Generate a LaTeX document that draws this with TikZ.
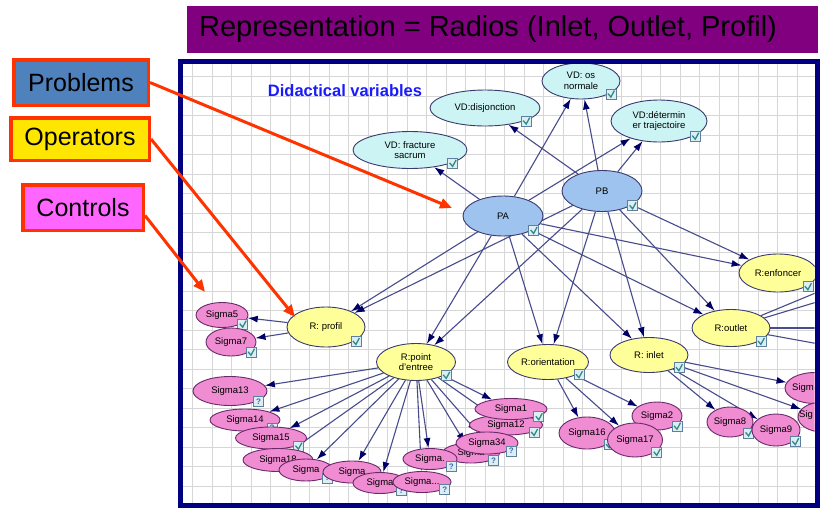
\documentclass[tikz,border=0pt]{standalone}
\usepackage{fontspec}
\setmainfont{Liberation Sans}
\usetikzlibrary{shapes.geometric,arrows.meta}
\definecolor{banner}{HTML}{800080}
\definecolor{panelb}{HTML}{000080}
\definecolor{gridc}{HTML}{D6D6D6}
\definecolor{vdfill}{HTML}{CCF4F4}
\definecolor{pfill}{HTML}{9DC3EE}
\definecolor{rfill}{HTML}{FFFF99}
\definecolor{sfill}{HTML}{F08CD2}
\definecolor{nodeline}{HTML}{3A3A6E}
\definecolor{sline}{HTML}{6A2A6A}
\definecolor{edgec}{HTML}{474C8C}
\definecolor{arrc}{HTML}{000066}
\definecolor{redc}{HTML}{FF3300}
\definecolor{probc}{HTML}{4F81BD}
\definecolor{operc}{HTML}{FFE600}
\definecolor{contc}{HTML}{FF66FF}
\definecolor{chkc}{HTML}{2E8B8B}
\definecolor{cbfill}{HTML}{DDEEF2}
\definecolor{cbline}{HTML}{5F7F9F}
\definecolor{didc}{HTML}{1A1AFF}
\definecolor{qc}{HTML}{3A6AB0}
\pgfdeclarelayer{back}
\pgfdeclarelayer{edges}
\pgfsetlayers{back,edges,main}
\newcommand\cbx[1]{\node[chkbox] (#1c) at ([xshift=2pt]#1.south east) {};}
\newcommand\qbx[1]{\node[qbox] (#1q) at ([xshift=2pt]#1.south east) {?};}
\begin{document}
\begin{tikzpicture}[x=1pt,y=-1pt,
  vnode/.style={ellipse, draw=nodeline, line width=0.9pt, inner sep=0pt, align=center,
    font=\fontsize{9.5}{10.5}\selectfont},
  sz/.style 2 args={minimum width=#1pt, minimum height=#2pt},
  vd/.style={vnode, fill=vdfill},
  pp/.style={vnode, fill=pfill},
  rr/.style={vnode, fill=rfill},
  sg/.style={vnode, fill=sfill, draw=sline},
  edge/.style={draw=edgec, line width=1.1pt, -{Latex[length=10pt,width=7pt,color=arrc]}},
  plainedge/.style={draw=edgec, line width=1.1pt},
  redarrow/.style={draw=redc, line width=3pt, -{Triangle[length=12pt,width=10pt]}},
  tag/.style={rectangle, draw=redc, line width=3.5pt, inner sep=0pt, font=\fontsize{25}{28}\selectfont},
  chkbox/.style={rectangle, draw=cbline, fill=cbfill, line width=0.7pt, minimum size=10pt, inner sep=0pt,
    path picture={\draw[color=chkc, line width=1.3pt]
      ([xshift=2pt,yshift=0.5pt]path picture bounding box.west) --
      ([yshift=2pt]path picture bounding box.south) --
      ([xshift=-1.5pt,yshift=-1.5pt]path picture bounding box.north east);}},
  qbox/.style={rectangle, draw=cbline, fill=cbfill, line width=0.7pt, minimum size=10pt, inner sep=0pt,
    text=qc, font=\fontsize{8}{8}\selectfont\bfseries}
]
\useasboundingbox (0,0) rectangle (820,507);

% ---- grid background
\begin{pgfonlayer}{back}
\fill[white] (182,63) rectangle (815,503);
\begin{scope}
\clip (182,63) rectangle (815,503);
\foreach \i in {0,...,32} \draw[gridc, line width=0.8pt] (192.7+19.5*\i,63) -- (192.7+19.5*\i,503);
\foreach \j in {0,...,22} \draw[gridc, line width=0.8pt] (182,76.7+19.5*\j) -- (815,76.7+19.5*\j);
\end{scope}
\end{pgfonlayer}

% ---- banner
\node[fill=banner, minimum width=631pt, minimum height=47pt, inner sep=0pt, anchor=north west] (banner) at (187,6) {};
\node[font=\fontsize{29}{32}\selectfont, text=black, inner sep=0pt] (title) at (488,29) {Representation = Radios (Inlet, Outlet, Profil)};

% ---- nodes
\begin{scope}
\clip (182.5,63.5) rectangle (814.5,502.5);
\node[font=\fontsize{16.5}{18}\selectfont\bfseries, text=didc, inner sep=0pt] (didac) at (345,91) {Didactical variables};

\node[vd, sz={114}{37}] (fr) at (410,150) {VD: fracture\\sacrum}; \cbx{fr}
\node[vd, sz={110}{36}] (dis) at (485,108) {VD:disjonction}; \cbx{dis}
\node[vd, sz={78}{36}] (os) at (581,81) {VD: os\\normale}; \cbx{os}
\node[vd, sz={96}{42}] (det) at (659,121) {VD:détermin\\er trajectoire}; \cbx{det}

\node[pp, sz={80}{40}] (PA) at (503,216) {PA}; \cbx{PA}
\node[pp, sz={80}{41}] (PB) at (602,191) {PB}; \cbx{PB}

\node[rr, sz={78}{40}] (prof) at (326,327) {R: profil}; \cbx{prof}
\node[rr, sz={79}{37}] (pt) at (416,362) {R:point\\d'entree}; \cbx{pt}
\node[rr, sz={81}{35}] (ori) at (548,362) {R:orientation}; \cbx{ori}
\node[rr, sz={78}{35}] (inl) at (649,355) {R: inlet}; \cbx{inl}
\node[rr, sz={78}{37}] (out) at (731,328) {R:outlet}; \cbx{out}
\node[rr, sz={78}{38}] (enf) at (778,273) {R:enfoncer}; \cbx{enf}

\node[sg, sz={52}{25}] (s5) at (222,315) {Sigma5}; \cbx{s5}
\node[sg, sz={50}{28}] (s7) at (231,342) {Sigma7}; \cbx{s7}

\node[sg, sz={73}{20}] (s12) at (506,425) {Sigma12}; \cbx{s12}
\node[sg, sz={72}{21}] (s1) at (511,409) {Sigma1}; \cbx{s1}
\node[sg, sz={57}{20}] (a6) at (471,453) {Sigma}; \qbx{a6}
\node[sg, sz={62}{22}] (s34) at (487,443) {Sigma34}; \qbx{s34}
\node[sg, sz={54}{21}] (a5) at (430,459) {Sigma.}; \qbx{a5}
\node[sg, sz={74}{29}] (s13) at (230,391) {Sigma13}; \qbx{s13}
\node[sg, sz={70}{22}] (s14) at (245,420) {Sigma14}; \qbx{s14}
\node[sg, sz={71}{22}] (s15) at (271,438) {Sigma15}; \cbx{s15}
\node[sg, sz={70}{23}] (s18) at (278,460) {Sigma18};
\node[sg, sz={54}{22}] (a1) at (306,470) {Sigma}; \qbx{a1}
\node[sg, sz={58}{22}] (a2) at (352,472) {Sigma};
\node[sg, sz={54}{21}] (a3) at (380,483) {Sigma}; \qbx{a3}
\node[sg, sz={58}{21}] (a4) at (422,482) {Sigma...}; \qbx{a4}

\node[sg, sz={50}{28}] (s2) at (657,416) {Sigma2}; \cbx{s2}
\node[sg, sz={56}{32}] (s16) at (587,433) {Sigma16}; \cbx{s16}
\node[sg, sz={55}{34}] (s17) at (635,440) {Sigma17}; \cbx{s17}
\node[sg, sz={46}{30}] (s8) at (730,422) {Sigma8}; \cbx{s8}
\node[sg, sz={60}{31}] (r1) at (815,388) {};
\node[font=\fontsize{9.5}{10.5}\selectfont, inner sep=0pt, anchor=west] (r1t) at (792,388) {Sigm};
\node[sg, sz={50}{30}] (r2) at (823,417) {};
\node[font=\fontsize{9.5}{10.5}\selectfont, inner sep=0pt, anchor=west] (r2t) at (799,415) {Sig};
\node[sg, sz={48}{32}] (s9) at (776,430) {Sigma9}; \cbx{s9}

\coordinate (off1) at (830,287);
\coordinate (off2) at (830,298);
\coordinate (off3) at (830,328);
\coordinate (off4) at (830,346);
\end{scope}

% ---- edges
\begin{pgfonlayer}{edges}
\begin{scope}
\clip (182.5,63.5) rectangle (814.5,502.5);
\foreach \t in {fr,os,det} \draw[edge] (PA) -- (\t);
\foreach \t in {dis,os,det} \draw[edge] (PB) -- (\t);
\foreach \t in {prof,pt,ori,inl,out,enf} {\draw[edge] (PA) -- (\t); \draw[edge] (PB) -- (\t);}
\foreach \t in {s5,s7} \draw[edge] (prof) -- (\t);
\foreach \t in {s13,s14,s15,s18,a1,a2,a3,a4,a5,a6,s34,s12,s1} \draw[edge] (pt) -- (\t);
\foreach \t in {s16,s17,s2} \draw[edge] (ori) -- (\t);
\foreach \t in {s8,s9,r1,r2} \draw[edge] (inl) -- (\t);
\foreach \t in {off1,off2,off3,off4} \draw[plainedge] (out) -- (\t);
\end{scope}
\end{pgfonlayer}

% ---- panel border
\draw[panelb, line width=5pt] (180,61) rectangle (817,505);

% ---- tags
\node[tag, fill=probc, minimum width=134.5pt, minimum height=45.5pt] (prob) at (81,82.5) {Problems};
\node[tag, fill=operc, minimum width=138.5pt, minimum height=42.5pt] (oper) at (80,139) {Operators};
\node[tag, fill=contc, minimum width=120.5pt, minimum height=45.5pt] (cont) at (83,207.5) {Controls};

\coordinate (t1) at (452,208);
\coordinate (t2) at (295,317);
\coordinate (t3) at (205,292);
\draw[redarrow] (prob.east) -- (t1);
\draw[redarrow] (oper.east) -- (t2);
\draw[redarrow] ([yshift=-8pt]cont.east) -- (t3);
\end{tikzpicture}
\end{document}
